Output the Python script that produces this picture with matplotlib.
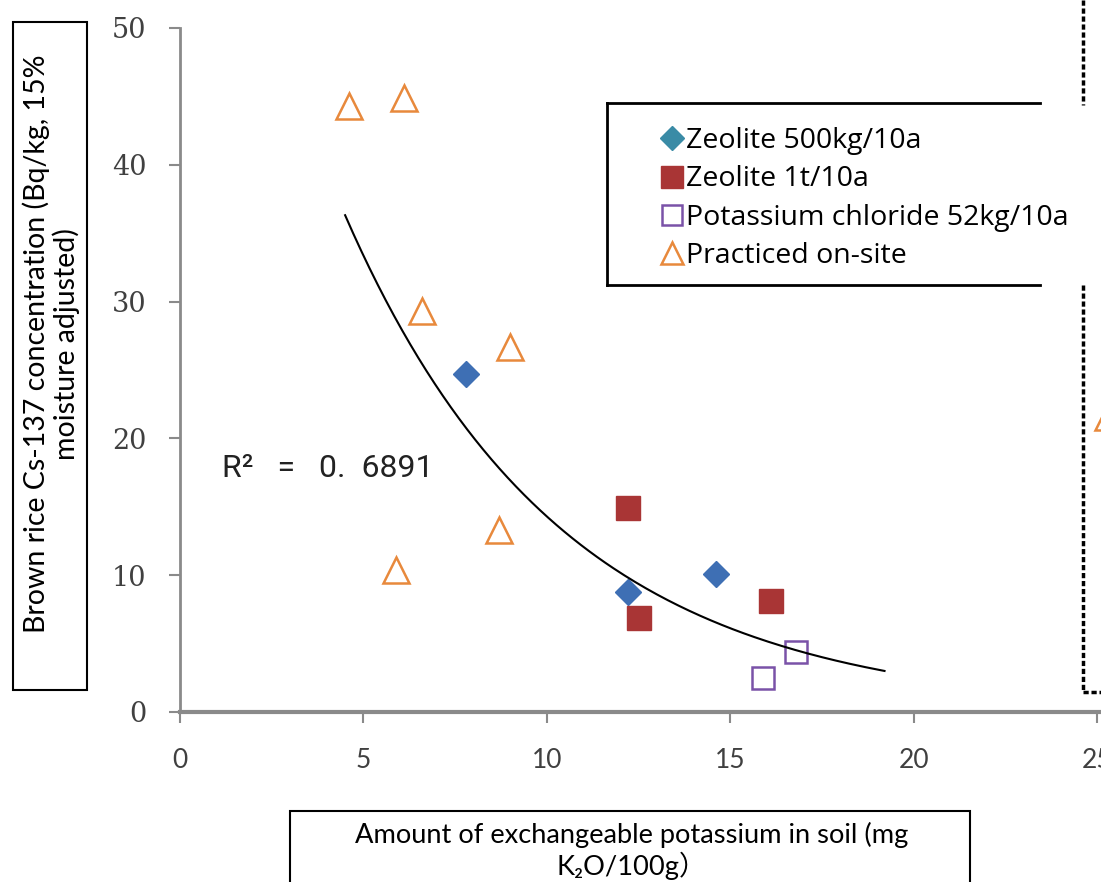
import matplotlib
matplotlib.use("Agg")
import matplotlib.pyplot as plt
import numpy as np
from matplotlib.lines import Line2D
from matplotlib.patches import Rectangle

# data
zeo500_x = [7.8, 12.2, 14.6]
zeo500_y = [24.7, 8.8, 10.1]
zeo1t_x = [12.2, 12.5, 16.1]
zeo1t_y = [14.9, 6.9, 8.1]
kcl_x = [15.9, 16.8]
kcl_y = [2.5, 4.4]
site_x = [4.6, 6.1, 6.6, 9.0, 8.7, 5.9, 25.3]
site_y = [44.3, 44.9, 29.3, 26.7, 13.3, 10.4, 21.6]

# exponential trendline y = a * exp(b x)
trend_a = 77.9
trend_b = -0.1696
trend_xmin, trend_xmax = 4.5, 19.2
r2_text = "R\u00b2   =   0.  6891"

labels = ["Zeolite 500kg/10a", "Zeolite 1t/10a",
          "Potassium chloride 52kg/10a", "Practiced on-site"]
xticks = [0, 5, 10, 15, 20, 25]
yticks = [0, 10, 20, 30, 40, 50]

W, H = 1101, 882
fig = plt.figure(figsize=(W / 100, H / 100), dpi=100)


def fx(px):
    return px / W


def fy(py):
    return 1 - py / H


ax = fig.add_axes([fx(180), fy(712), fx(921), 684 / H])
ax.set_xlim(0, 25.1)
ax.set_ylim(0, 50)

ax.plot(zeo500_x, zeo500_y, "D", ms=13, color="#3E6FB4", mec="#3E6FB4", ls="none")
ax.plot(zeo1t_x, zeo1t_y, "s", ms=17, color="#A93535", mec="#A93535", ls="none")
ax.plot(kcl_x, kcl_y, "s", ms=16, mfc="white", mec="#7A52A8", mew=1.8, ls="none")
ax.plot(site_x, site_y, "^", ms=19, mfc="white", mec="#E8893C", mew=1.8, ls="none",
        clip_on=False)

tx = np.linspace(trend_xmin, trend_xmax, 200)
ax.plot(tx, trend_a * np.exp(trend_b * tx), color="black", lw=1.5)

ax.text(1.15, 17.8, r2_text, fontsize=23, family="Roboto",
        color="#222222", va="center", ha="left")

for s in ["top", "right"]:
    ax.spines[s].set_visible(False)
ax.spines["left"].set_color("#8a8a8a")
ax.spines["left"].set_linewidth(2)
ax.spines["bottom"].set_color("#8a8a8a")
ax.spines["bottom"].set_linewidth(3)
ax.set_xticks(xticks)
ax.set_yticks(yticks)
ax.tick_params(axis="both", direction="out", length=8, width=1.5, color="#8a8a8a")
ax.tick_params(axis="x", pad=18)
ax.tick_params(axis="y", pad=16)
for t in ax.get_xticklabels():
    t.set_family("Lato")
    t.set_fontsize(19)
    t.set_color("#404040")
for t in ax.get_yticklabels():
    t.set_family("DejaVu Serif")
    t.set_fontsize(19.5)
    t.set_color("#404040")

# y label box
fig.patches.append(Rectangle((fx(13), fy(690)), fx(74), (690 - 22) / H,
                             transform=fig.transFigure, fill=False, ec="black", lw=1.5))
fig.text(fx(51), fy(344), "Brown rice Cs-137 concentration (Bq/kg, 15%\nmoisture adjusted)",
         rotation=90, ha="center", va="center", fontsize=20.5, family="Lato",
         linespacing=1.1)

# x label box
fig.patches.append(Rectangle((fx(290), fy(900)), fx(680), (900 - 811) / H,
                             transform=fig.transFigure, fill=False, ec="black", lw=1.5))
fig.text(fx(632), fy(851), "Amount of exchangeable potassium in soil (mg\nK\u2082O/100g\uff09",
         ha="center", va="center", fontsize=19.6,
         family=["Lato", "DejaVu Sans", "Noto Sans CJK JP"], linespacing=1.15)

# legend
handles = [
    Line2D([], [], marker="D", ms=12, color="#3A8BA6", ls="none"),
    Line2D([], [], marker="s", ms=16, color="#A93535", ls="none"),
    Line2D([], [], marker="s", ms=15, mfc="white", mec="#7A52A8", mew=1.8, ls="none"),
    Line2D([], [], marker="^", ms=16, mfc="white", mec="#E8893C", mew=1.8, ls="none"),
]
fig.legend(handles, labels, loc="upper left", bbox_to_anchor=(fx(648), fy(113)),
           frameon=False, prop={"family": "Open Sans", "size": 20.5},
           handlelength=0.7, handletextpad=0.15, labelspacing=0.36, borderpad=0)
for (x0, y0, x1, y1) in [(607, 103, 1040, 103), (607, 103, 607, 285), (607, 285, 1040, 285)]:
    fig.add_artist(Line2D([fx(x0), fx(x1)], [fy(y0), fy(y1)], color="black", lw=2,
                          transform=fig.transFigure))

# dashed frame at right edge
for seg in [([1083, 1083], [0, 105]), ([1083, 1083], [285, 692]), ([1083, 1101], [692, 692])]:
    fig.add_artist(Line2D([fx(v) for v in seg[0]], [fy(v) for v in seg[1]], color="black",
                          lw=2.5, ls=(0, (1.5, 0.8)), transform=fig.transFigure))

fig.savefig("out.png", dpi=100)
